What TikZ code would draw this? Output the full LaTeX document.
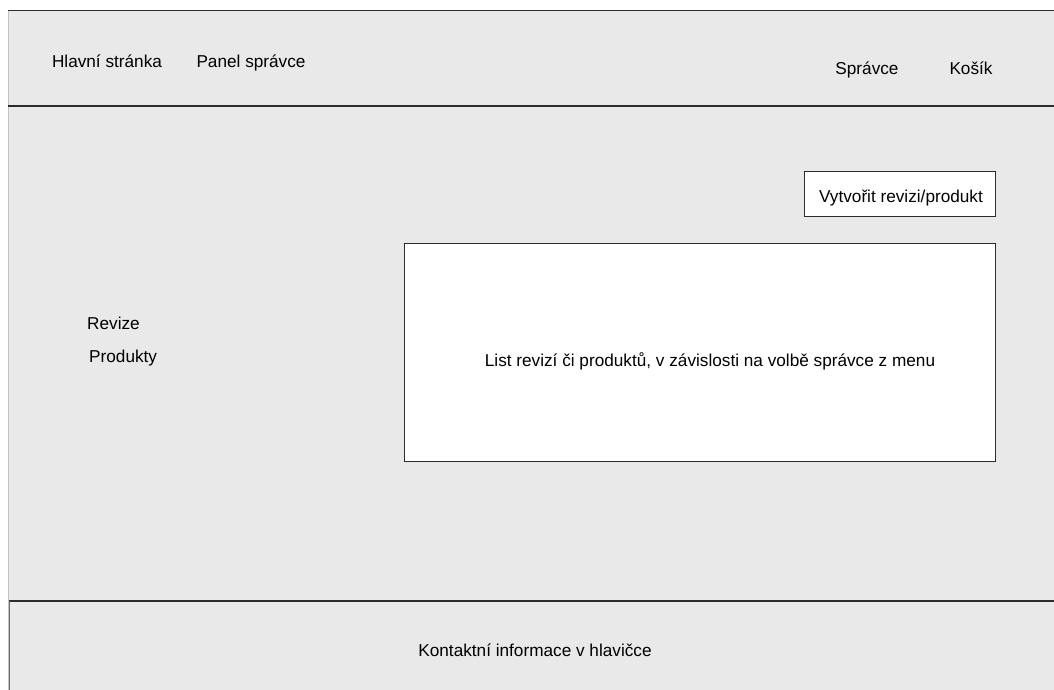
\documentclass[tikz,border=0pt]{standalone}
\usepackage{fontspec}
\setmainfont{Liberation Sans}
\definecolor{pagegray}{HTML}{E9E9E9}
\definecolor{edge}{HTML}{2B2B2B}
\definecolor{softedge}{HTML}{C4C4C4}
\begin{document}
\begin{tikzpicture}[x=1pt,y=-1pt,
  label/.style={font=\fontsize{17.2}{20}\selectfont, text=black, inner sep=0pt, anchor=base},
  panel/.style={draw=edge, line width=1pt, fill=white}]
\useasboundingbox (0,0) rectangle (1054,690);
% page background
\fill[pagegray] (8,10) rectangle (1054,690);
\draw[softedge, line width=0.8pt] (8,10) -- (8,690);
% header
\draw[edge, line width=0.9pt] (8,10.5) -- (1054,10.5);
\draw[edge, line width=1.2pt] (8,106) -- (1054,106);
\node[label] (home) at (107,68) {Hlavní stránka};
\node[label] (admin) at (251,68) {Panel správce};
\node[label] (user) at (867,75) {Správce};
\node[label] (cart) at (971,75) {Košík};
% side menu
\node[label, anchor=base west] (rev) at (87,329) {Revize};
\node[label, anchor=base west] (prod) at (89,362) {Produkty};
% create button
\node[panel, minimum width=191pt, minimum height=45pt, inner sep=0pt] (create) at (899.5,193.5) {};
\node[label] (createtxt) at (901,202) {Vytvořit revizi/produkt};
% list
\node[panel, minimum width=591pt, minimum height=218pt, inner sep=0pt] (list) at (699.5,352) {};
\node[label] (listtxt) at (710,366) {List revizí či produktů, v závislosti na volbě správce z menu};
% footer
\draw[edge, line width=1.2pt] (9,601) -- (1054,601);
\draw[edge!70, line width=1pt] (9.5,601) -- (9.5,690);
\node[label] (contact) at (535,656) {Kontaktní informace v hlavičce};
\end{tikzpicture}
\end{document}
